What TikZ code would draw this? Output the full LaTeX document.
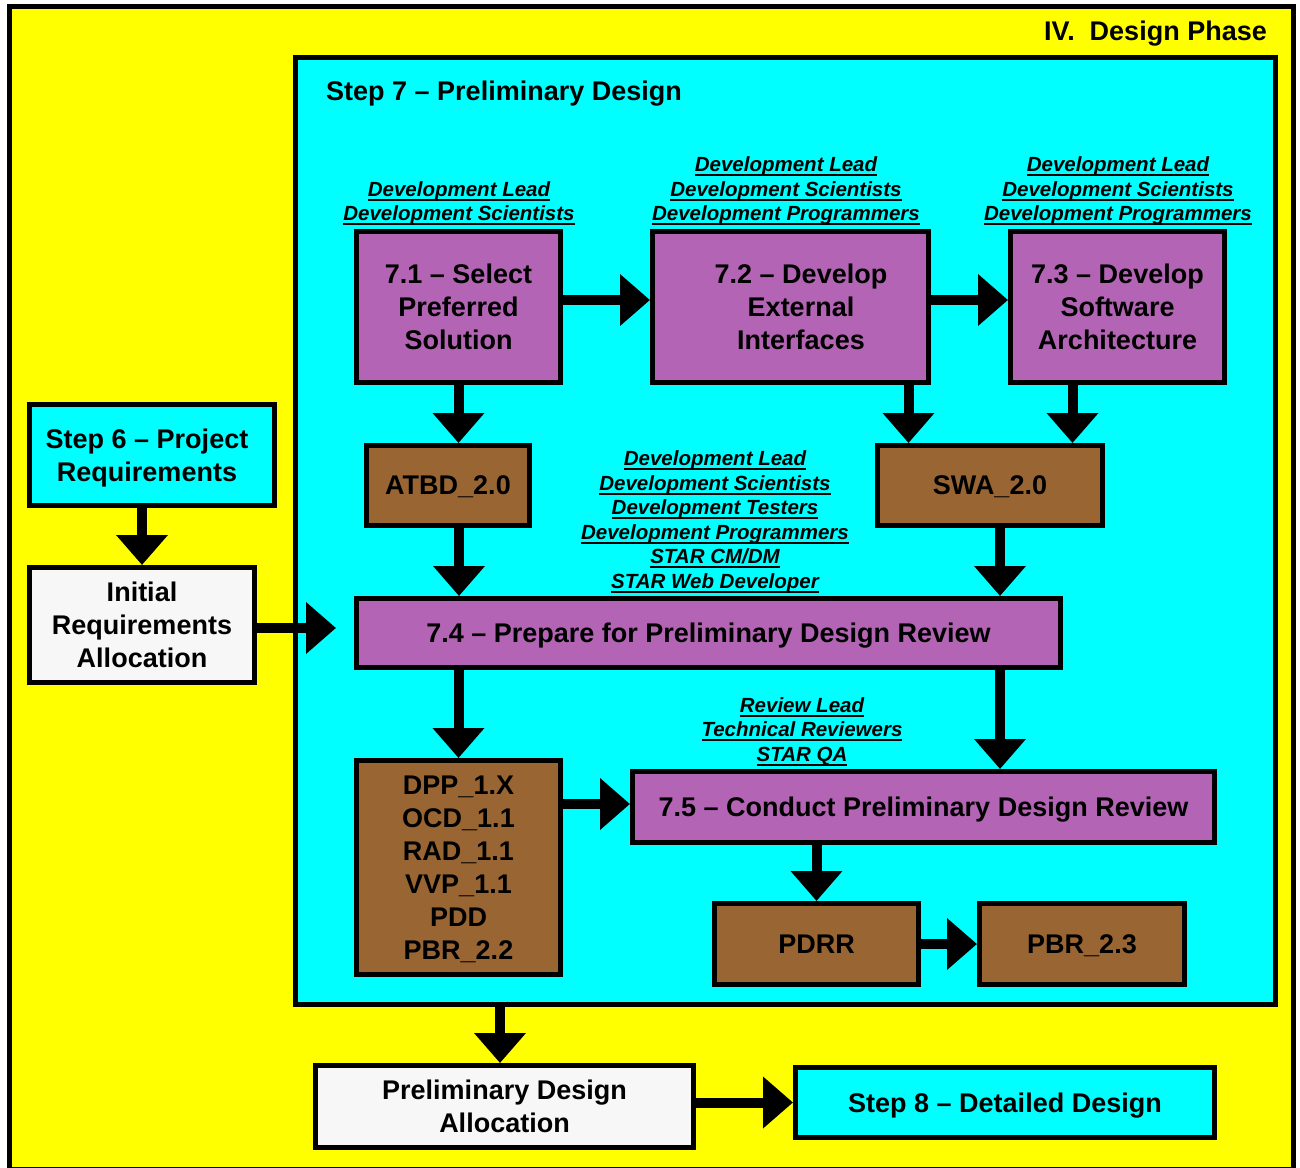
\documentclass[tikz,border=0pt]{standalone}
\usepackage{fontspec}
\setmainfont{Liberation Sans}
\usetikzlibrary{arrows.meta,calc}
\definecolor{yel}{HTML}{FFFF00}
\definecolor{cy}{HTML}{00FFFF}
\definecolor{pur}{HTML}{B464B4}
\definecolor{brn}{HTML}{996633}
\definecolor{wht}{HTML}{F7F7F7}
\newcommand\ulab[1]{\setbox0\hbox{#1}\rlap{\rule[-4.5pt]{\wd0}{2pt}}\box0}
\begin{document}
\begin{tikzpicture}[x=1pt,y={(0pt,-1pt)},
  box/.style={draw=black, line width=5pt, align=center, inner sep=0pt, text depth=0pt,
    font=\fontsize{27}{33}\selectfont\bfseries},
  pbox/.style={box, fill=pur},
  bbox/.style={box, fill=brn},
  wbox/.style={box, fill=wht},
  cbox/.style={box, fill=cy},
  role/.style={align=center, inner sep=0pt,
    font=\fontsize{20.5}{24.5}\selectfont\bfseries\itshape},
  ttl/.style={inner sep=0pt, font=\fontsize{27}{33}\selectfont\bfseries},
  arr/.style={line width=10pt, -{Triangle[width=50pt,length=30pt]}}]
\useasboundingbox (0,0) rectangle (1300,1167);
% frames
\node[draw=black, line width=5pt, fill=yel, minimum width=1284, minimum height=1163, inner sep=0pt] (ph) at (651.5,588) {};
\node[draw=black, line width=5pt, fill=cy, minimum width=980, minimum height=947, inner sep=0pt] (s7) at (785.5,531) {};
\node[ttl, anchor=base east] (tph) at (1267,40) {IV.\ \ Design Phase};
\node[ttl, anchor=base west] (ts7) at (326,100) {Step 7 -- Preliminary Design};
% boxes
\node[pbox, minimum width=204, minimum height=151] (b71) at (458.5,307) {7.1 -- Select\\Preferred\\Solution};
\node[pbox, minimum width=276, minimum height=151] (b72) at (790.5,307) {\hspace*{21pt}7.2 -- Develop\\\hspace*{21pt}External\\\hspace*{21pt}Interfaces};
\node[pbox, minimum width=214, minimum height=151, text depth=-4pt] (b73) at (1117.5,307) {7.3 -- Develop\\Software\\Architecture};
\node[bbox, minimum width=163, minimum height=80] (atbd) at (448,485.5) {ATBD\_2.0};
\node[bbox, minimum width=225, minimum height=80] (swa) at (990,485.5) {SWA\_2.0};
\node[pbox, minimum width=704, minimum height=69] (b74) at (708.5,633) {7.4 -- Prepare for Preliminary Design Review};
\node[bbox, minimum width=204, minimum height=214, text depth=-5pt] (dpp) at (458.5,867.5) {DPP\_1.X\\OCD\_1.1\\RAD\_1.1\\VVP\_1.1\\PDD\\PBR\_2.2};
\node[pbox, minimum width=582, minimum height=71] (b75) at (923.5,807) {7.5 -- Conduct Preliminary Design Review};
\node[bbox, minimum width=204, minimum height=81] (pdrr) at (816.5,944) {PDRR};
\node[bbox, minimum width=205, minimum height=81] (pbr) at (1082,944) {PBR\_2.3};
\node[cbox, minimum width=245, minimum height=101] (s6) at (152,455) {\hspace*{-10pt}Step 6 -- Project\\\hspace*{-10pt}Requirements};
\node[wbox, minimum width=225, minimum height=115] (ira) at (142,625) {Initial\\Requirements\\Allocation};
\node[wbox, minimum width=378, minimum height=82] (pda) at (504.5,1106.5) {Preliminary Design\\Allocation};
\node[cbox, minimum width=419, minimum height=70] (s8) at (1005,1102.5) {Step 8 -- Detailed Design};
% role labels
\node[role] (r71) at (459,203.5) {\ulab{Development Lead}\\\ulab{Development Scientists}};
\node[role] (r72) at (786,191) {\ulab{Development Lead}\\\ulab{Development Scientists}\\\ulab{Development Programmers}};
\node[role] (r73) at (1118,191) {\ulab{Development Lead}\\\ulab{Development Scientists}\\\ulab{Development Programmers}};
\node[role] (r74) at (715,522) {\ulab{Development Lead}\\\ulab{Development Scientists}\\\ulab{Development Testers}\\\ulab{Development Programmers}\\\ulab{STAR CM/DM}\\\ulab{STAR Web Developer}};
\node[role] (r75) at (802,731.5) {\ulab{Review Lead}\\\ulab{Technical Reviewers}\\\ulab{STAR QA}};
% connectors
\coordinate (t74) at (336,628);
\draw[arr] (s6.south -| ira.north) -- (ira.north);
\draw[arr] (ira.east |- t74) -- (t74);
\draw[arr] ([yshift=7pt]b71.east) -- ([yshift=7pt]b71.east -| b72.west);
\draw[arr] ([yshift=7pt]b72.east) -- ([yshift=7pt]b72.east -| b73.west);
\draw[arr] (b71.south) -- (b71.south |- atbd.north);
\draw[arr] ([xshift=118pt]b72.south) -- ([xshift=118pt]b72.south |- swa.north);
\draw[arr] ([xshift=-45pt]b73.south) -- ([xshift=-45pt]b73.south |- swa.north);
\draw[arr] ([xshift=11pt]atbd.south) -- ([xshift=11pt]atbd.south |- b74.north);
\draw[arr] ([xshift=10pt]swa.south) -- ([xshift=10pt]swa.south |- b74.north);
\draw[arr] (b74.south -| dpp.north) -- (dpp.north);
\draw[arr] ([xshift=10pt]swa.south |- b74.south) -- ([xshift=10pt]swa.south |- b75.north);
\draw[arr] ([yshift=3pt]dpp.east |- b75.west) -- ([yshift=3pt]b75.west);
\draw[arr] (b75.south -| pdrr.north) -- (pdrr.north);
\draw[arr] (pdrr.east) -- (pbr.west);
\draw[arr] ([xshift=-4.5pt]s7.south -| pda.north) -- ([xshift=-4.5pt]pda.north);
\draw[arr] (pda.east |- s8.west) -- (s8.west);
\end{tikzpicture}
\end{document}
